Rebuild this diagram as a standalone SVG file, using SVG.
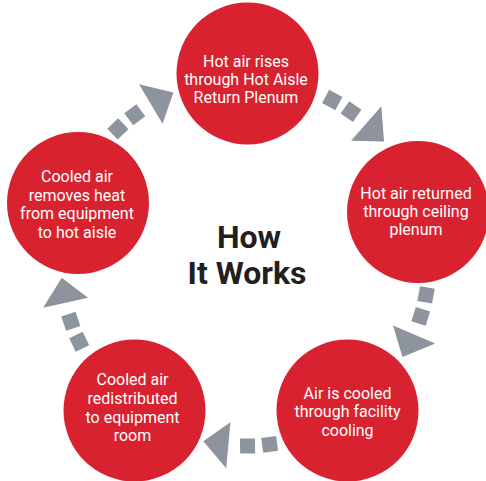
<svg xmlns="http://www.w3.org/2000/svg" width="486" height="481" viewBox="0 0 486 481">
<style>
.node circle{fill:#d9222f}
.lbl{font-family:Roboto,"Liberation Sans",sans-serif;font-size:16px;fill:#fff;text-anchor:middle}
.title{font-family:Roboto,"Liberation Sans",sans-serif;font-size:32px;font-weight:bold;fill:#231f20;text-anchor:middle}
.arr{fill:#8d949d}
</style>
<defs>
<g id="arrowShape" class="arr">
<rect x="237.5" y="70.5" width="15" height="15" transform="rotate(-10.3 245 262)"/>
<rect x="237.5" y="70.5" width="15" height="15" transform="rotate(-3.4 245 262)"/>
<polygon points="245,55 270.3,79.8 245,101" transform="rotate(2.6 245 262)"/>
</g>
</defs>
<rect width="486" height="481" fill="#fff"/>
<g id="connectors">
<use href="#arrowShape" transform="rotate(-33.4 245 262)"/>
<use href="#arrowShape" transform="rotate(38.6 245 262)"/>
<use href="#arrowShape" transform="rotate(110.6 245 262)"/>
<use href="#arrowShape" transform="rotate(182.6 245 262)"/>
<use href="#arrowShape" transform="rotate(254.6 245 262)"/>
</g>
<g id="node-top" class="node">
<circle cx="247.5" cy="73.5" r="71"/>
<text class="lbl" x="246" y="67">Hot air rises</text>
<text class="lbl" x="246" y="85">through Hot Aisle</text>
<text class="lbl" x="246" y="103">Return Plenum</text>
</g>
<g id="node-right" class="node">
<circle cx="418" cy="212" r="71"/>
<text class="lbl" x="416" y="199">Hot air returned</text>
<text class="lbl" x="416" y="217">through ceiling</text>
<text class="lbl" x="416" y="235">plenum</text>
</g>
<g id="node-bottom-right" class="node">
<circle cx="347.5" cy="410.5" r="71"/>
<text class="lbl" x="347.5" y="398.5">Air is cooled</text>
<text class="lbl" x="347.5" y="417">through facility</text>
<text class="lbl" x="347.5" y="436">cooling</text>
</g>
<g id="node-bottom-left" class="node">
<circle cx="134.5" cy="410.5" r="71"/>
<text class="lbl" x="132.5" y="385">Cooled air</text>
<text class="lbl" x="132.5" y="404">redistributed</text>
<text class="lbl" x="132.5" y="422.5">to equipment</text>
<text class="lbl" x="132.5" y="441">room</text>
</g>
<g id="node-left" class="node">
<circle cx="78" cy="203" r="71"/>
<text class="lbl" x="77" y="182">Cooled air</text>
<text class="lbl" x="77" y="200.5">removes heat</text>
<text class="lbl" x="77" y="219">from equipment</text>
<text class="lbl" x="77" y="237.5">to hot aisle</text>
</g>
<g id="title">
<text class="title" x="249" y="248">How</text>
<text class="title" x="247" y="284">It Works</text>
</g>
</svg>
